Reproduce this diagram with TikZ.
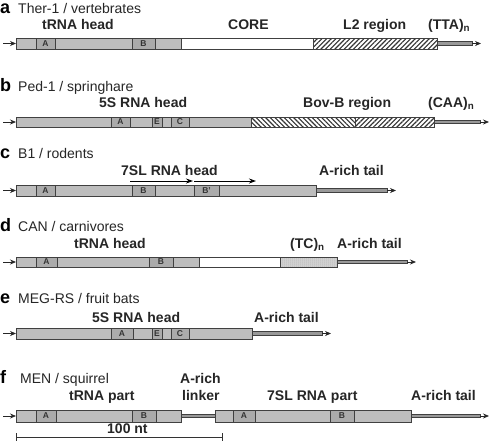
\documentclass[tikz,border=0pt]{standalone}
\usepackage{fontspec}
\setmainfont{Liberation Sans}
\usetikzlibrary{patterns.meta,arrows.meta}
\definecolor{barc}{HTML}{BDBDBD}
\definecolor{boxc}{HTML}{ABABAB}
\definecolor{edge}{HTML}{404040}
\definecolor{tcc}{HTML}{D8D8D8}
\tikzset{
 bar/.style={fill=barc,draw=edge,line width=0.8pt},
 motif/.style={fill=boxc,draw=edge,line width=0.8pt},
 whiteseg/.style={fill=white,draw=edge,line width=0.8pt},
 hatchne/.style={pattern={Lines[angle=45,distance=3.3pt,line width=1.1pt]},pattern color=black!80,draw=edge,line width=0.8pt},
 hatchnw/.style={pattern={Lines[angle=-45,distance=3.3pt,line width=1.1pt]},pattern color=black!80,draw=edge,line width=0.8pt},
 dotseg/.style={fill=tcc,draw=edge,line width=0.8pt},
 dotfill/.style={pattern={Dots[distance=2pt,radius=0.5pt]},pattern color=gray!90},
 tailseg/.style={fill=gray!80,draw=edge,line width=0.8pt},
 tip/.style={-{Stealth[length=6pt,width=5pt]},draw=black!85,line width=0.8pt},
 htip/.style={-{Stealth[length=7pt,width=5pt]},draw=black,line width=1pt},
 title/.style={font=\fontsize{14}{16}\selectfont,anchor=base west,inner sep=0,text=black!85},
 lab/.style={font=\bfseries\fontsize{14}{16}\selectfont,anchor=base west,inner sep=0,text=black!85},
 letter/.style={font=\bfseries\fontsize{18}{20}\selectfont,anchor=base west,inner sep=0},
 mtxt/.style={font=\bfseries\fontsize{8.5}{9}\selectfont,inner sep=0,text=black!80}
}
\begin{document}
\begin{tikzpicture}[x=1pt,y=-1pt]
\fill[white] (0,0) rectangle (490,440);
\useasboundingbox (0,0) rectangle (490,440);

% ---------- row a
\node[letter] (la) at (0,13) {a};
\node[title] (ta) at (18,13) {Ther-1 / vertebrates};
\node[lab] (ha) at (42,29) {tRNA head};
\node[lab] (ca) at (228,29) {CORE};
\node[lab] (l2) at (343,29) {L2 region};
\node[lab] (tta) at (428,29) {(TTA)\textsubscript{n}};
\coordinate (a0) at (3,43.5); \coordinate (a1) at (16,43.5);
\draw[tip] (a0) -- (a1);
\draw[bar] (16,38) rectangle (181,49);
\draw[motif] (36,38) rectangle node[mtxt] (aA) {A} (55,49);
\draw[motif] (132,38) rectangle node[mtxt] (aB) {B} (155,49);
\draw[whiteseg] (181,38) rectangle (313,49);
\draw[hatchne] (313,38) rectangle (437,49);
\draw[tailseg] (437,41.8) rectangle (472,45.2);
\coordinate (a2) at (472,43.5); \coordinate (a3) at (481,43.5);
\draw[tip] (a2) -- (a3);

% ---------- row b
\node[letter] (lb) at (0,91) {b};
\node[title] (tb) at (18,91) {Ped-1 / springhare};
\node[lab] (hb) at (99,107) {5S RNA head};
\node[lab] (bov) at (303,107) {Bov-B region};
\node[lab] (caa) at (428,107) {(CAA)\textsubscript{n}};
\coordinate (b0) at (3,122); \coordinate (b1) at (16,122);
\draw[tip] (b0) -- (b1);
\draw[bar] (16,117) rectangle (251,127);
\draw[motif] (111,117) rectangle node[mtxt] (bA) {A} (130,127);
\draw[motif] (152,117) rectangle node[mtxt] (bE) {E} (162,127);
\draw[motif] (171,117) rectangle node[mtxt] (bC) {C} (189,127);
\draw[hatchnw] (251,117) rectangle (355,127);
\draw[hatchne] (355,117) rectangle (434,127);
\draw[tailseg] (434,120.3) rectangle (480,123.7);
\coordinate (b2) at (480,122); \coordinate (b3) at (489,122);
\draw[tip] (b2) -- (b3);

% ---------- row c
\node[letter] (lc) at (0,158) {c};
\node[title] (tc) at (18,158) {B1 / rodents};
\node[lab] (hc) at (121,175) {7SL RNA head};
\node[lab] (arc) at (319,175) {A-rich tail};
\coordinate (c4) at (130,181); \coordinate (c5) at (193,181);
\coordinate (c6) at (194,181); \coordinate (c7) at (256,181);
\draw[htip] (c4) -- (c5);
\draw[htip] (c6) -- (c7);
\coordinate (c0) at (3,190.5); \coordinate (c1) at (16,190.5);
\draw[tip] (c0) -- (c1);
\draw[bar] (16,185) rectangle (316,196);
\draw[motif] (36,185) rectangle node[mtxt] (cA) {A} (55,196);
\draw[motif] (132,185) rectangle node[mtxt] (cB) {B} (155,196);
\draw[motif] (194,185) rectangle node[mtxt] (cBp) {B'} (219,196);
\draw[tailseg] (316,188.8) rectangle (387,192.2);
\coordinate (c2) at (387,190.5); \coordinate (c3) at (396,190.5);
\draw[tip] (c2) -- (c3);

% ---------- row d
\node[letter] (ld) at (0,231) {d};
\node[title] (td) at (18,231) {CAN / carnivores};
\node[lab] (hd) at (74,248) {tRNA head};
\node[lab] (tcn) at (290,248) {(TC)\textsubscript{n}};
\node[lab] (ard) at (337,248) {A-rich tail};
\coordinate (d0) at (3,262); \coordinate (d1) at (16,262);
\draw[tip] (d0) -- (d1);
\draw[bar] (16,257) rectangle (199,267);
\draw[motif] (36,257) rectangle node[mtxt] (dA) {A} (57,267);
\draw[motif] (149,257) rectangle node[mtxt] (dB) {B} (173,267);
\draw[whiteseg] (199,257) rectangle (280,267);
\draw[dotseg] (280,257) rectangle (337,267);
\fill[dotfill] (280,257) rectangle (337,267);
\draw[edge,line width=0.8pt] (280,257) rectangle (337,267);
\draw[tailseg] (337,260.3) rectangle (407,263.7);
\coordinate (d2) at (407,262); \coordinate (d3) at (416,262);
\draw[tip] (d2) -- (d3);

% ---------- row e
\node[letter] (le) at (0,303) {e};
\node[title] (te) at (18,303) {MEG-RS / fruit bats};
\node[lab] (he) at (92,322) {5S RNA head};
\node[lab] (are) at (254,322) {A-rich tail};
\coordinate (e0) at (3,333.5); \coordinate (e1) at (16,333.5);
\draw[tip] (e0) -- (e1);
\draw[bar] (16,328) rectangle (252,339);
\draw[motif] (111,328) rectangle node[mtxt] (eA) {A} (133,339);
\draw[motif] (152,328) rectangle node[mtxt] (eE) {E} (162,339);
\draw[motif] (171,328) rectangle node[mtxt] (eC) {C} (189,339);
\draw[tailseg] (252,331.8) rectangle (322,335.2);
\coordinate (e2) at (322,333.5); \coordinate (e3) at (331,333.5);
\draw[tip] (e2) -- (e3);

% ---------- row f
\node[letter] (lf) at (0,383) {f};
\node[title] (tf) at (20,383) {MEN / squirrel};
\node[lab] (hf) at (69,400) {tRNA part};
\node[lab] (lk1) at (180,383) {A-rich};
\node[lab] (lk2) at (182,400) {linker};
\node[lab] (sl) at (267,400) {7SL RNA part};
\node[lab] (arf) at (411,400) {A-rich tail};
\coordinate (f0) at (3,416); \coordinate (f1) at (16,416);
\draw[tip] (f0) -- (f1);
\draw[bar] (16,410) rectangle (181,422);
\draw[motif] (36,410) rectangle node[mtxt] (fA) {A} (56,422);
\draw[motif] (132,410) rectangle node[mtxt] (fB) {B} (156,422);
\draw[tailseg] (181,414.3) rectangle (215,417.7);
\draw[bar] (215,410) rectangle (411,422);
\draw[motif] (233,410) rectangle node[mtxt] (fA2) {A} (255,422);
\draw[motif] (330,410) rectangle node[mtxt] (fB2) {B} (354,422);
\draw[tailseg] (411,414.3) rectangle (480,417.7);
\coordinate (f2) at (480,416); \coordinate (f3) at (489,416);
\draw[tip] (f2) -- (f3);

% ---------- scale bar
\node[lab] (nt) at (107,433) {100 nt};
\coordinate (s0) at (16,437); \coordinate (s1) at (222,437);
\draw[black!80,line width=0.8pt] (s0) -- (s1);
\draw[black!80,line width=0.8pt] ([yshift=-4]s0) -- ([yshift=4]s0);
\draw[black!80,line width=0.8pt] ([yshift=-4]s1) -- ([yshift=4]s1);
\end{tikzpicture}
\end{document}
